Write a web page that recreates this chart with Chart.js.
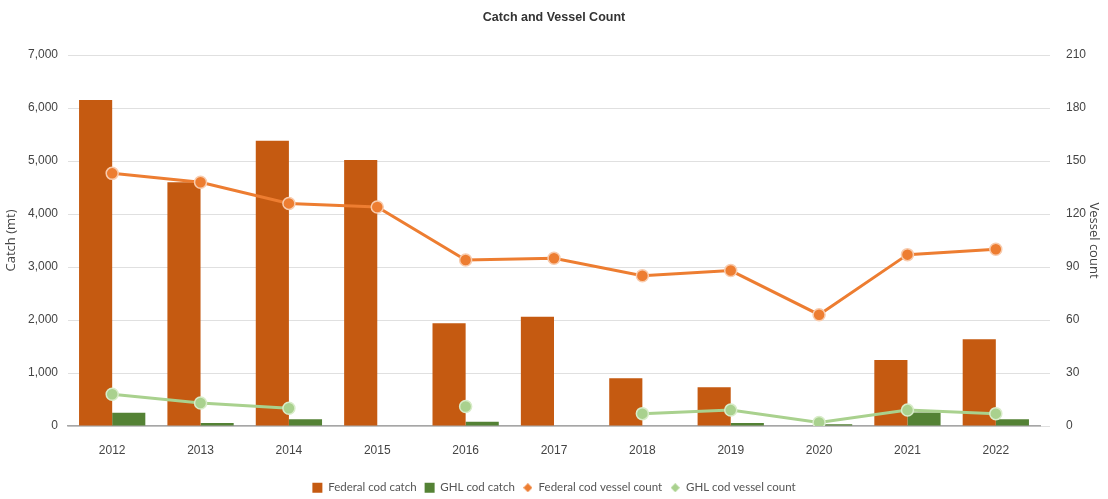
<!DOCTYPE html>
<html>
<head>
<meta charset="utf-8">
<script src="https://cdn.jsdelivr.net/npm/chart.js@4.4.1/dist/chart.umd.min.js"></script>
<style>
  html, body { margin: 0; padding: 0; background: #fff; }
  #wrap { width: 1108px; height: 499px; position: relative; }
</style>
</head>
<body>
<div id="wrap"><canvas id="catchChart"></canvas></div>
<script>
// données
const years = ['2012', '2013', '2014', '2015', '2016', '2017', '2018', '2019', '2020', '2021', '2022'];
const federalCatch = [6150, 4600, 5380, 5020, 1940, 2060, 900, 730, 0, 1245, 1635];
const ghlCatch = [250, 57, 128, 0, 80, 0, 0, 57, 32, 255, 128];
const federalVessels = [143, 138, 126, 124, 94, 95, 85, 88, 63, 97, 100];
const ghlVessels = [18, 13, 10, null, 11, null, 7, 9, 2, 9, 7];

const narrow = '"Liberation Sans Narrow", "Liberation Sans", sans-serif';

// petit losange pour la légende des courbes
function diamond(color) {
    const c = document.createElement('canvas');
    c.width = 9;
    c.height = 9;
    const g = c.getContext('2d');
    g.fillStyle = color;
    g.beginPath();
    g.moveTo(4.5, 0);
    g.lineTo(9, 4.5);
    g.lineTo(4.5, 9);
    g.lineTo(0, 4.5);
    g.closePath();
    g.fill();
    return c;
}

// hauteur fixe de la légende pour la placer comme dans l'original
const legendHeight = {
    id: 'legendHeight',
    afterInit(chart) {
        const lg = chart.legend;
        if (!lg) return;
        const fit = lg.fit;
        lg.fit = function() {
            fit.call(this);
            this.height = 25;
        };
    }
};

document.addEventListener('DOMContentLoaded', function() {
    const ctx = document.getElementById('catchChart').getContext('2d');
    window.catchChart = new Chart(ctx, {
        type: 'bar',
        plugins: [legendHeight],
        data: {
            labels: years,
            datasets: [
                {
                    label: 'Federal cod catch',
                    data: federalCatch,
                    backgroundColor: '#c55a11',
                    yAxisID: 'y',
                    order: 2
                },
                {
                    label: 'GHL cod catch',
                    data: ghlCatch,
                    backgroundColor: '#548235',
                    yAxisID: 'y',
                    order: 2
                },
                {
                    type: 'line',
                    label: 'Federal cod vessel count',
                    data: federalVessels,
                    borderColor: '#ed7d31',
                    backgroundColor: '#ed7d31',
                    pointBackgroundColor: '#ed7d31',
                    pointBorderColor: '#f8cbad',
                    pointBorderWidth: 1.5,
                    pointRadius: 6,
                    borderWidth: 3,
                    yAxisID: 'y1',
                    order: 0
                },
                {
                    type: 'line',
                    label: 'GHL cod vessel count',
                    data: ghlVessels,
                    borderColor: '#a9d18e',
                    backgroundColor: '#a9d18e',
                    pointBackgroundColor: '#a9d18e',
                    pointBorderColor: '#d8ecc9',
                    pointBorderWidth: 1.5,
                    pointRadius: 6,
                    borderWidth: 3,
                    spanGaps: false,
                    yAxisID: 'y1',
                    order: 1
                }
            ]
        },
        options: {
            responsive: true,
            maintainAspectRatio: false,
            animation: false,
            layout: { padding: { top: 4, bottom: 0 } },
            datasets: {
                bar: { barPercentage: 1, categoryPercentage: 0.75 }
            },
            scales: {
                x: {
                    grid: { display: false, drawTicks: false },
                    border: { color: '#a6a6a6', width: 1.5 },
                    ticks: { color: '#444', font: { family: narrow, size: 12 }, padding: 17 },
                    afterFit: s => { s.height = 48; }
                },
                y: {
                    position: 'left',
                    min: 0,
                    max: 7000,
                    ticks: {
                        stepSize: 1000,
                        color: '#444',
                        padding: 10,
                        font: { family: narrow, size: 12 },
                        callback: v => v.toLocaleString('en-US')
                    },
                    grid: { color: '#e0e0e0', drawTicks: false },
                    border: { display: false },
                    title: {
                        display: true,
                        text: 'Catch (mt)',
                        color: '#444',
                        font: { family: '"Open Sans", sans-serif', size: 13 },
                        padding: { top: 3, bottom: 0 }
                    },
                    afterFit: s => { s.width = 68; }
                },
                y1: {
                    position: 'right',
                    min: 0,
                    max: 210,
                    ticks: {
                        stepSize: 30,
                        color: '#444',
                        padding: 16,
                        font: { family: narrow, size: 12 }
                    },
                    grid: { drawOnChartArea: false, drawTicks: true, tickLength: 10, color: '#e0e0e0' },
                    border: { display: false },
                    title: {
                        display: true,
                        text: 'Vessel count',
                        color: '#444',
                        font: { family: '"Open Sans", sans-serif', size: 13 },
                        padding: { top: 6, bottom: 0 }
                    },
                    afterFit: s => { s.width = 68; }
                }
            },
            plugins: {
                title: {
                    display: true,
                    text: 'Catch and Vessel Count',
                    color: '#333',
                    font: { family: narrow, size: 12.5, weight: 'bold' },
                    padding: { top: 6, bottom: 30 }
                },
                legend: {
                    position: 'bottom',
                    labels: {
                        color: '#555',
                        font: { family: 'Lato, sans-serif', size: 11.5 },
                        boxWidth: 10,
                        boxHeight: 10,
                        padding: 8,
                        usePointStyle: true,
                        sort: (a, b) => a.datasetIndex - b.datasetIndex,
                        generateLabels: function(chart) {
                            const items = Chart.defaults.plugins.legend.labels.generateLabels(chart);
                            items.forEach(function(it) {
                                const ds = chart.data.datasets[it.datasetIndex];
                                it.pointStyle = ds.type === 'line' ? diamond(ds.borderColor) : 'rect';
                                it.lineWidth = 0;
                            });
                            return items;
                        }
                    }
                },
                tooltip: { enabled: false }
            }
        }
    });
});
</script>
</body>
</html>
